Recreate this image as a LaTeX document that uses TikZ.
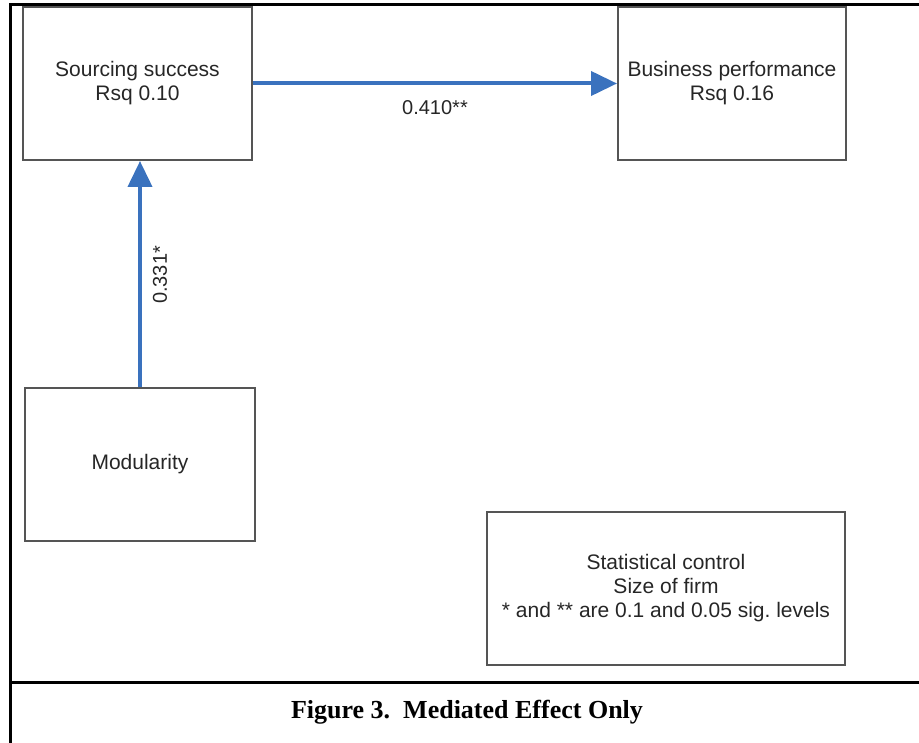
\documentclass[tikz,border=0pt]{standalone}
\usepackage{fontspec}
\setmainfont{Liberation Sans}
\newfontfamily\captionfont{Liberation Serif}
\usetikzlibrary{arrows.meta}
\frenchspacing

\definecolor{pathblue}{RGB}{58,114,190}
\definecolor{boxgray}{RGB}{85,85,85}

\begin{document}
\begin{tikzpicture}[x=1pt, y=-1pt,
    box/.style={draw=boxgray, line width=2pt, align=center, inner sep=0pt,
        font=\fontsize{21}{24}\selectfont, text=black!85},
    path/.style={draw=pathblue, line width=4pt,
        -{Triangle[length=26pt, width=24pt]}},
    coef/.style={font=\fontsize{20}{24}\selectfont, text=black!85}]
    \useasboundingbox (0,0) rectangle (919,743);

    % Frame
    \draw[line width=3pt] (919,5) -- (10,5) -- (10,743);
    \draw[line width=3pt] (10,682) -- (919,682);

    % Boxes
    \node[box, minimum width=229pt, minimum height=153pt] (src) at (137.5,83.5)
        {Sourcing success\\Rsq 0.10};
    \node[box, minimum width=228pt, minimum height=153pt] (biz) at (732,83.5)
        {Business performance\\Rsq 0.16};
    \node[box, minimum width=230pt, minimum height=153pt] (mod) at (140,464.5)
        {Modularity};
    \node[box, minimum width=358pt, minimum height=153pt] (ctrl) at (666,588.5)
        {Statistical control\\Size of firm\\* and ** are 0.1 and 0.05 sig. levels};

    % Paths
    \draw[path] (src.east) -- (biz.west);
    \draw[path] (mod.north) -- (mod.north |- src.south);

    % Coefficients
    \node[coef] (c1) at (435,108) {0.410**};
    \node[coef, rotate=90] (c2) at (160,275) {0.331*};

    % Caption
    \node[font=\captionfont\bfseries\fontsize{26}{30}\selectfont] (cap) at (467,712)
        {Figure 3.\ \ Mediated Effect Only};
\end{tikzpicture}
\end{document}
